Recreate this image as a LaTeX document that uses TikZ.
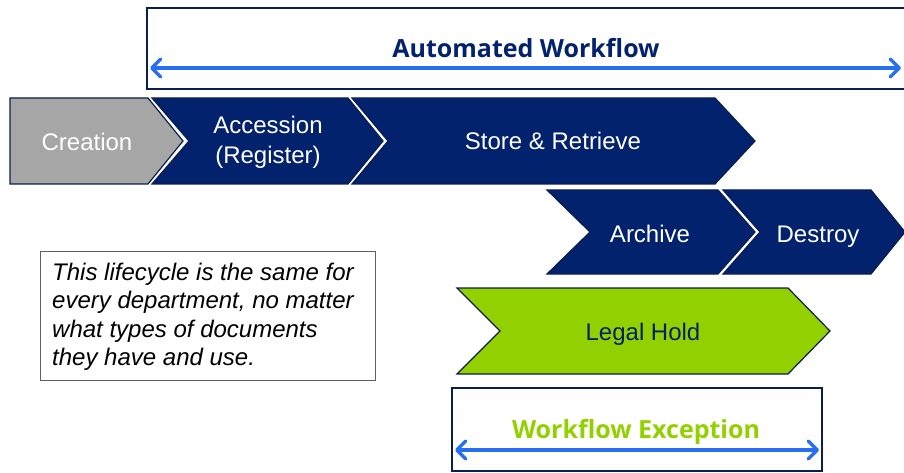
\documentclass[tikz,border=0pt]{standalone}
\usepackage{fontspec}
\setmainfont{Liberation Sans}
\newfontfamily\headfont{Open Sans}
\usetikzlibrary{arrows.meta}

\definecolor{navy}{RGB}{2,34,110}
\definecolor{navyline}{RGB}{10,30,80}
\definecolor{stepgray}{RGB}{166,166,166}
\definecolor{holdgreen}{RGB}{146,208,0}
\definecolor{spanblue}{RGB}{40,110,240}
\definecolor{noteline}{RGB}{90,95,115}

\tikzset{
  chev/.style={draw=navyline, line width=1.2pt, line join=miter},
  chevtext/.style={text=white, font=\fontsize{24}{30}\selectfont, align=center, inner sep=0pt},
  framebox/.style={draw=navyline, line width=1.8pt},
  spanarrow/.style={draw=spanblue, line width=3.5pt,
    {Straight Barb[round,length=9pt,width=18pt]}-{Straight Barb[round,length=9pt,width=18pt]}},
  headtext/.style={font=\headfont\bfseries\fontsize{25}{30}\selectfont, inner sep=0pt, anchor=base},
}

\begin{document}
\begin{tikzpicture}[x=1pt,y=-1pt]
\useasboundingbox (0,0) rectangle (904,473);

% automated workflow frame and span arrow
\draw[framebox] (907,8) -- (147,8) -- (147,89) -- (907,89);
\coordinate (awL) at (150,68);
\coordinate (awR) at (901,68);
\draw[spanarrow] (awL) -- (awR);
\node[headtext, text=navy] (aw) at (526,58) {Automated Workflow};

% first row of lifecycle steps
\fill[stepgray] (10,98) -- (148,98) -- (183,141) -- (148,184) -- (10,184) -- cycle;
\draw[chev] (10,98) -- (148,98) -- (183,141) -- (148,184) -- (10,184) -- cycle;
\fill[navy] (152,98) -- (348,98) -- (383,141) -- (348,184) -- (152,184) -- (189,141) -- cycle;
\draw[chev] (152,98) -- (348,98) -- (383,141) -- (348,184) -- (152,184) -- (189,141) -- cycle;
\fill[navy] (352,98) -- (715,98) -- (755,141) -- (715,184) -- (352,184) -- (388,141) -- cycle;
\draw[chev] (352,98) -- (715,98) -- (755,141) -- (715,184) -- (352,184) -- (388,141) -- cycle;

\node[chevtext, anchor=base] (creation) at (87,151) {Creation};
\node[chevtext] (accession) at (268,142) {Accession\\(Register)};
\node[chevtext, anchor=base] (store) at (553,150) {Store \& Retrieve};

% second row
\fill[navy] (547,190) -- (718,190) -- (755,232) -- (718,274) -- (547,274) -- (590,232) -- cycle;
\draw[chev] (547,190) -- (718,190) -- (755,232) -- (718,274) -- (547,274) -- (590,232) -- cycle;
\fill[navy] (723,190) -- (871,190) -- (905,232) -- (871,274) -- (723,274) -- (760,232) -- cycle;
\draw[chev] (723,190) -- (871,190) -- (905,232) -- (871,274) -- (723,274) -- (760,232) -- cycle;

\node[chevtext, anchor=base] (archive) at (650,242) {Archive};
\node[chevtext, anchor=base] (destroy) at (818,242) {Destroy};

% legal hold
\fill[holdgreen] (457,288) -- (788,288) -- (830,331) -- (788,374) -- (457,374) -- (500,331) -- cycle;
\draw[chev] (457,288) -- (788,288) -- (830,331) -- (788,374) -- (457,374) -- (500,331) -- cycle;
\node[chevtext, text=navy, anchor=base] (hold) at (643,340) {Legal Hold};

% workflow exception frame
\draw[framebox] (452,388) rectangle (822,471);
\coordinate (weL) at (455,450);
\coordinate (weR) at (819,450);
\draw[spanarrow] (weL) -- (weR);
\node[headtext, text=holdgreen] (we) at (636,438) {Workflow Exception};

% note
\draw[noteline, line width=1pt] (40,251) rectangle (375,380);
\node[anchor=north west, align=left, inner sep=0pt,
      font=\itshape\fontsize{24}{28.5}\selectfont] (note) at (52,262.5)
  {This lifecycle is the same for\\every department, no matter\\what types of documents\\they have and use.};
\end{tikzpicture}
\end{document}
